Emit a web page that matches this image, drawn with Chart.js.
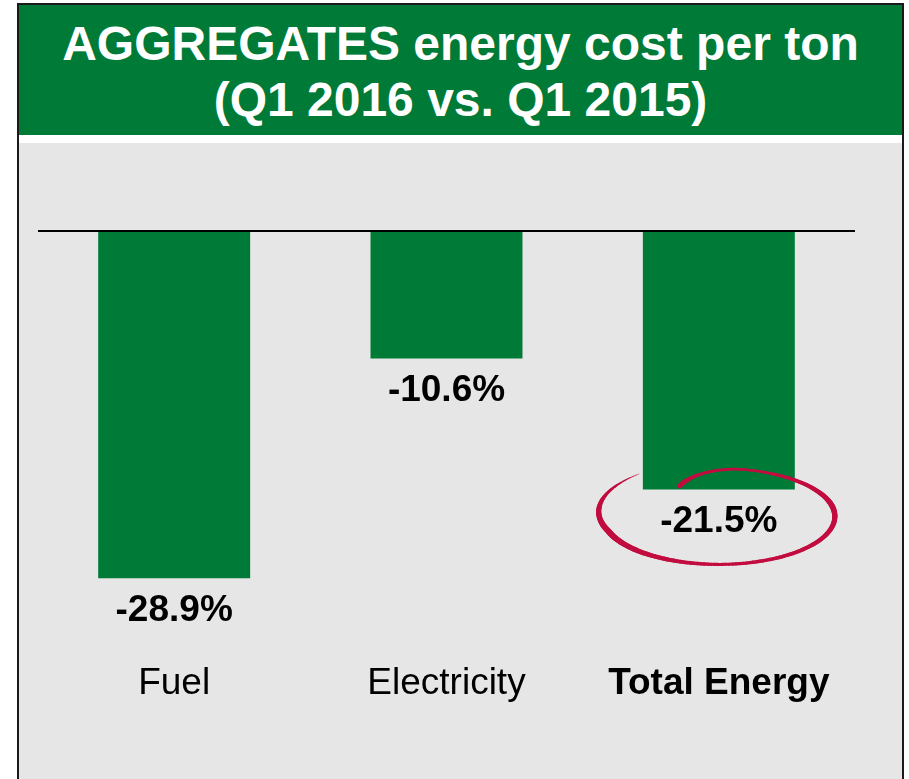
<!DOCTYPE html>
<html lang="en">
<head>
<meta charset="UTF-8">
<title>AGGREGATES energy cost per ton</title>
<script src="https://cdn.jsdelivr.net/npm/chart.js"></script>
<style>
  body {
    margin: 0;
    background: #fff;
    font-family: "Liberation Sans", Arial, sans-serif;
    width: 909px;
    height: 779px;
    overflow: hidden;
    position: relative;
  }
  .box {
    position: absolute;
    left: 17px;
    top: 3px;
    width: 883px;
    height: 800px;
    border: 2px solid #1a1a1a;
    border-bottom: none;
    background: #e6e6e6;
  }
  .header {
    background: #007a37;
    color: #fff;
    height: 119px;
    padding-top: 11px;
    text-align: center;
    font-weight: bold;
    font-size: 48px;
    line-height: 56px;
    border-bottom: 8px solid #fff;
  }
  .plot {
    position: absolute;
    left: 0;
    top: 138px;
    width: 883px;
    height: 636px;
  }
</style>
</head>
<body>
<div class="box">
  <div class="header">AGGREGATES energy cost per ton<br>(Q1 2016 vs. Q1 2015)</div>
  <div class="plot"><canvas id="chart" width="883" height="636"></canvas></div>
</div>
<script>
const categories = ['Fuel', 'Electricity', 'Total Energy'];
const changes = [-28.9, -10.6, -21.5];
const highlighted = 2; // the circled bar

const green = '#007a37';
const red = '#c20c3f';

// value labels under each bar end
const valueLabels = {
  id: 'valueLabels',
  afterDatasetsDraw(chart) {
    const ctx = chart.ctx;
    const meta = chart.getDatasetMeta(0);
    ctx.save();
    ctx.font = 'bold 37px "Liberation Sans", Arial, sans-serif';
    ctx.fillStyle = '#000';
    ctx.textAlign = 'center';
    ctx.textBaseline = 'middle';
    meta.data.forEach((bar, i) => {
      ctx.fillText(changes[i].toFixed(1) + '%', bar.x, bar.y + 32);
    });
    ctx.restore();
  }
};

// pen width along the swoosh: [angle in degrees, width]
const penWidths = [[242, 5], [262, 3], [290, 2.5], [350, 5.5], [400, 4],
                   [450, 3], [520, 6], [550, 5], [592, 0.5]];

function penWidth(deg) {
  for (let k = 1; k < penWidths.length; k++) {
    const [d0, w0] = penWidths[k - 1], [d1, w1] = penWidths[k];
    if (deg <= d1) return w0 + (w1 - w0) * (deg - d0) / (d1 - d0);
  }
  return penWidths[penWidths.length - 1][1];
}

// hand-drawn red swoosh around the highlighted label
const swoosh = {
  id: 'swoosh',
  afterDatasetsDraw(chart) {
    const ctx = chart.ctx;
    const bar = chart.getDatasetMeta(0).data[highlighted];
    const cx = bar.x, cy = bar.y + 27;
    const rx = 116, ry = 48;
    const d0 = 242, d1 = 592;
    const steps = 200;
    ctx.save();
    ctx.strokeStyle = red;
    ctx.lineCap = 'round';
    let prev = null;
    for (let s = 0; s <= steps; s++) {
      const p = s / steps;
      const deg = d0 + (d1 - d0) * p;
      const a = deg * Math.PI / 180;
      let m = 1;
      if (p < 0.12) m = 0.72 + 0.28 * Math.sin((p / 0.12) * Math.PI / 2);
      if (p > 0.8) m = 1 + 0.12 * (p - 0.8) / 0.2;
      const pt = [cx + rx * m * Math.cos(a), cy + ry * m * Math.sin(a)];
      if (prev) {
        ctx.lineWidth = penWidth(deg);
        ctx.beginPath();
        ctx.moveTo(prev[0], prev[1]);
        ctx.lineTo(pt[0], pt[1]);
        ctx.stroke();
      }
      prev = pt;
    }
    ctx.restore();
  }
};

new Chart(document.getElementById('chart'), {
  type: 'bar',
  data: {
    labels: categories,
    datasets: [{
      data: changes,
      backgroundColor: green,
      borderWidth: 0,
      barPercentage: 0.558,
      categoryPercentage: 1
    }]
  },
  options: {
    responsive: false,
    animation: false,
    layout: { padding: { left: 19, right: 47, top: 28, bottom: 71 } },
    plugins: { legend: { display: false }, tooltip: { enabled: false } },
    scales: {
      x: {
        grid: { display: false },
        border: { display: false },
        ticks: {
          color: '#000',
          padding: 2,
          font: (c) => ({
            family: '"Liberation Sans", Arial, sans-serif',
            size: 37,
            weight: c.index === highlighted ? 'bold' : 'normal'
          })
        }
      },
      y: {
        min: -35,
        max: 5,
        border: { display: false },
        ticks: { display: false },
        grid: {
          drawTicks: false,
          color: (c) => c.tick && c.tick.value === 0 ? '#000' : 'rgba(0,0,0,0)',
          lineWidth: 2
        }
      }
    }
  },
  plugins: [valueLabels, swoosh]
});
</script>
</body>
</html>
